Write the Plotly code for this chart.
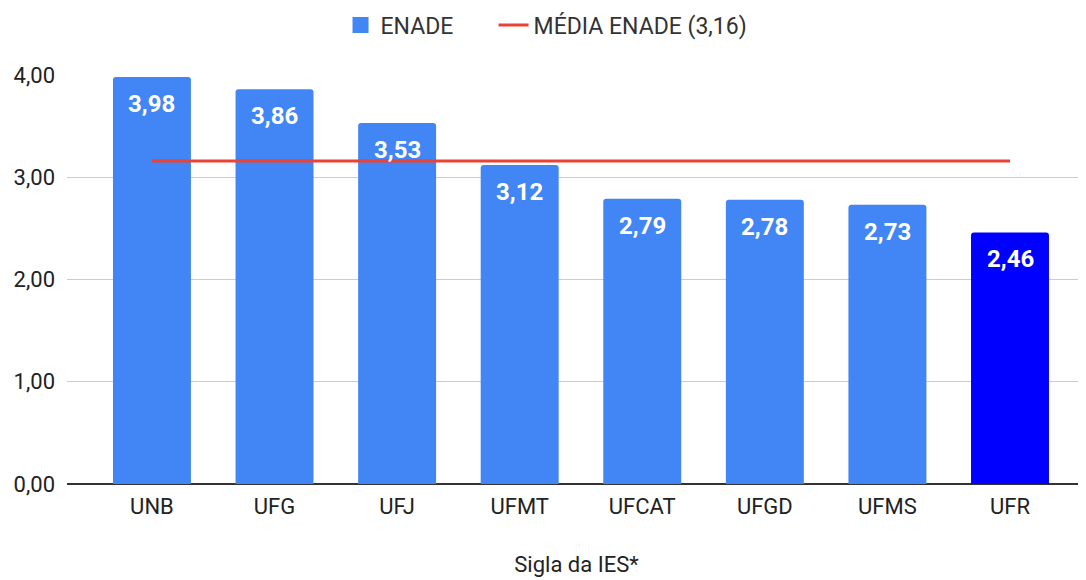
import plotly.graph_objects as go

categories = ["UNB", "UFG", "UFJ", "UFMT", "UFCAT", "UFGD", "UFMS", "UFR"]
enade = [3.98, 3.86, 3.53, 3.12, 2.79, 2.78, 2.73, 2.46]
media = 3.16
labels = ["3,98", "3,86", "3,53", "3,12", "2,79", "2,78", "2,73", "2,46"]
bar_colors = ["#4285f4"] * 7 + ["#0000ff"]

fig = go.Figure()
fig.add_trace(go.Bar(
    x=categories, y=enade, name="ENADE",
    marker=dict(color=bar_colors, line=dict(width=0)),
    showlegend=False,
))
# legend proxy for bars
fig.add_trace(go.Scatter(
    x=[None], y=[None], mode="markers", name="ENADE", legend="legend",
    marker=dict(symbol="square", size=22, color="#4285f4"),
))
fig.add_trace(go.Scatter(
    x=categories, y=[media] * len(categories), mode="lines",
    name="MÉDIA ENADE (3,16)", legend="legend2",
    line=dict(color="#ea4335", width=3),
))

for c, v, t in zip(categories, enade, labels):
    fig.add_annotation(x=c, y=v, text=t, showarrow=False, yshift=-27,
                       font=dict(family="Roboto", size=24, color="white", weight="bold"))

leg_common = dict(orientation="h", xanchor="left", y=0.9707, yanchor="middle",
                  xref="container", yref="container",
                  font=dict(size=23, color="#333333"), itemwidth=30,
                  bgcolor="rgba(0,0,0,0)")

fig.update_layout(
    width=1086, height=580,
    paper_bgcolor="white", plot_bgcolor="white",
    margin=dict(l=59, r=8, t=67, b=104, autoexpand=False),
    separators=",.",
    bargap=0.364,
    barcornerradius=3,
    font=dict(family="Roboto", size=22, color="#222222"),
    legend=dict(x=0.3062, **leg_common),
    legend2=dict(x=0.4471, **leg_common),
    xaxis=dict(range=[-0.693, 7.62], showgrid=False, ticks="", automargin=False,
               tickfont=dict(size=22, color="#222222"), ticklabelstandoff=7,
               title=dict(text="Sigla da IES*", font=dict(size=22, color="#222222"), standoff=38)),
    yaxis=dict(range=[0, 4.0], tickvals=[0, 1, 2, 3, 4], tickformat=".2f", automargin=False,
               gridcolor="#cccccc", gridwidth=1, zeroline=True, zerolinecolor="#333333",
               zerolinewidth=1.5, tickfont=dict(size=22, color="#222222"),
               ticklabelstandoff=11),
)

fig.write_html("out.html")
